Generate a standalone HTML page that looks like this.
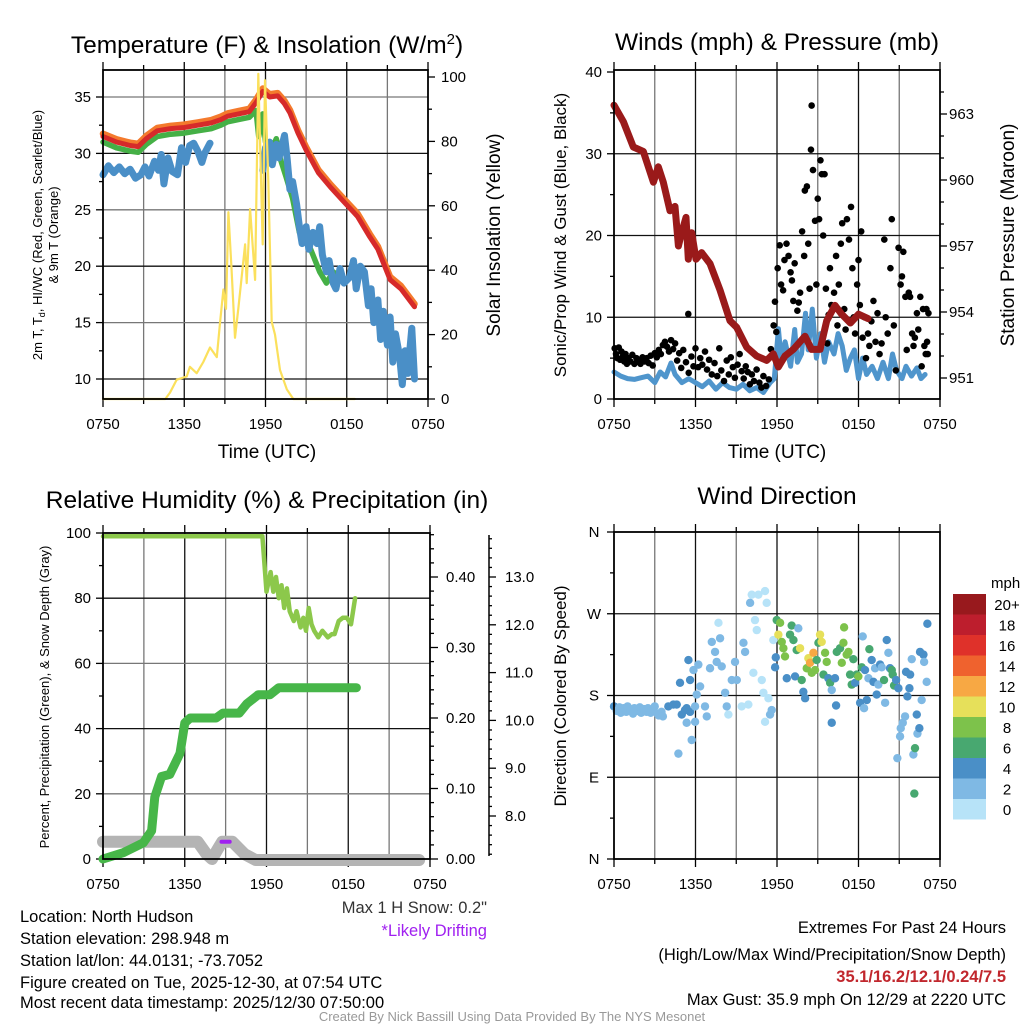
<!DOCTYPE html>
<html><head><meta charset="utf-8"><style>
html,body{margin:0;padding:0;background:#fff;}
svg{display:block;font-family:"Liberation Sans Narrow","Liberation Sans",sans-serif;}
</style></head><body>
<svg id="c" width="1024" height="1024" viewBox="0 0 1024 1024" xmlns="http://www.w3.org/2000/svg">
<rect width="1024" height="1024" fill="#fff"/>
<g font-size="24.5" text-anchor="middle" fill="#000">
<text x="267" y="53">Temperature (F) &amp; Insolation (W/m<tspan dy="-9" font-size="15">2</tspan><tspan dy="9">)</tspan></text>
<text x="777" y="50">Winds (mph) &amp; Pressure (mb)</text>
<text x="267" y="508">Relative Humidity (%) &amp; Precipitation (in)</text>
<text x="777" y="504">Wind Direction</text>
</g>
<g font-size="19" text-anchor="middle">
<text x="267" y="458">Time (UTC)</text>
<text x="777" y="458">Time (UTC)</text>
<text transform="translate(500,235) rotate(-90)">Solar Insolation (Yellow)</text>
<text transform="translate(1014,235) rotate(-90)">Station Pressure (Maroon)</text>
</g>
<g font-size="17" text-anchor="middle">
<text transform="translate(566,235) rotate(-90)">Sonic/Prop Wind &amp; Gust (Blue, Black)</text>
<text transform="translate(566,696) rotate(-90)">Direction (Colored By Speed)</text>
</g>
<g font-size="13" text-anchor="middle">
<text transform="translate(42,235) rotate(-90)">2m T, T<tspan font-size="9" dy="3">d</tspan><tspan dy="-3">, HI/WC (Red, Green, Scarlet/Blue)</tspan></text>
<text transform="translate(58,235) rotate(-90)">&amp; 9m T (Orange)</text>
<text transform="translate(49,697) rotate(-90)">Percent, Precipitation (Green), &amp; Snow Depth (Gray)</text>
</g>
<g font-size="16.5" fill="#000">
<text x="20" y="922">Location: North Hudson</text>
<text x="20" y="944">Station elevation: 298.948 m</text>
<text x="20" y="966">Station lat/lon: 44.0131; -73.7052</text>
<text x="20" y="988">Figure created on Tue, 2025-12-30, at 07:54 UTC</text>
<text x="20" y="1008">Most recent data timestamp: 2025/12/30 07:50:00</text>
<text x="487" y="913" text-anchor="end" fill="#333">Max 1 H Snow: 0.2"</text>
<text x="487" y="936" text-anchor="end" fill="#a020f0">*Likely Drifting</text>
<text x="1006" y="933" text-anchor="end">Extremes For Past 24 Hours</text>
<text x="1006" y="960" text-anchor="end">(High/Low/Max Wind/Precipitation/Snow Depth)</text>
<text x="1006" y="982" text-anchor="end" fill="#c1272d" font-weight="bold">35.1/16.2/12.1/0.24/7.5</text>
<text x="1006" y="1005" text-anchor="end">Max Gust: 35.9 mph On 12/29 at 2220 UTC</text>
</g>
<text x="512" y="1021" font-size="13" fill="#999" text-anchor="middle">Created By Nick Bassill Using Data Provided By The NYS Mesonet</text>
</svg>
<script>
// ---- Panel 1 data (hours since 0750 UTC) ----
const redH=[0,1,2,2.6,3.2,4,5,6,7,8,8.7,9.2,10,10.8,11.3,11.8,12.3,12.9,13.4,13.8,14.4,15.0,15.9,16.8,17.8,18.5,18.8,19.7,20.3,21.2,22.0,23.0];
const redT=[31.5,31.0,30.7,30.6,31.3,32.0,32.2,32.3,32.5,32.7,33.0,33.3,33.5,33.7,34.5,35.5,35.0,35.1,34.4,33.6,31.8,30.3,28.3,27.0,25.7,24.8,24.4,22.6,21.5,18.8,18.0,16.4];
const greenH=[0,1,2,2.6,3.2,4,5,6,7,8,8.7,9.2,10,10.8,11.3,11.5,11.8,12.0,12.5,12.8,13.1,13.5,14,14.5,15,15.5,16,16.5,17,17.5,18,18.5];
const greenT=[31.0,30.5,30.2,30.1,30.8,31.5,31.7,31.8,32.0,32.2,32.5,32.8,33.0,33.2,33.8,31.5,33.5,31.0,30.5,31.3,29.5,28.0,26.0,23.0,22.5,21.0,19.5,18.5,19.5,19.0,18.8,19.5];
const blueH1=[0,0.4,0.8,1.2,1.6,2.0,2.4,2.8,3.1,3.4,3.8,4.1,4.3,4.5,4.8,5.1,5.5,5.8,6.1,6.4,6.7,7.0,7.3,7.5,7.9];
const blueT1=[28.1,28.9,28.3,28.8,28.2,28.6,27.8,28.1,28.8,28.0,29.3,28.5,29.9,27.3,29.6,28.4,28.1,30.5,29.2,30.7,30.9,30.2,29.2,30.0,30.9];
const blueH2=[11.8,12.0,12.3,12.5,12.8,13.0,13.4,13.6,13.8,14.0,14.3,14.5,14.7,15.0,15.2,15.5,15.8,16.0,16.2,16.5,16.7,17.0,17.2,17.5,17.8,18.2,18.5,18.7,19.0,19.3,19.6,19.8,20.0,20.3,20.5,20.7,21.0,21.2,21.4,21.6,21.9,22.1,22.3,22.5,22.8,23.0];
const blueT2=[28.5,30.5,31.0,29.0,30.8,29.6,31.6,29.5,26.8,27.5,25.5,23.5,22.0,23.5,21.5,23.0,22.0,23.5,21.0,19.5,20.5,18.5,18.0,19.8,18.5,19.0,20.5,18.0,20.0,19.5,16.5,18.0,15.0,17.0,13.5,16.0,13.0,15.5,11.5,14.0,12.0,9.5,12.5,10.5,14.5,10.0];
const solH=[0,4.6,4.95,5.44,6.18,6.42,6.92,7.41,7.9,8.4,8.64,8.89,9.08,9.26,9.5,9.75,9.99,10.24,10.49,10.61,10.86,11.23,11.47,11.79,11.96,12.21,12.46,12.7,13.07,13.57,14.05,18.6];
const solW=[0,0,2,6,7,10,8,11.5,16,13,23.6,34,28,58,40,19,28,38,48,36,59,37,101,48,99,68,24,20,9,3,0,0];
const tempTicks=[10,15,20,25,30,35];
const solTicks=[0,20,40,60,80,100];
const timeLabels=["0750","1350","1950","0150","0750"];
// ---- Panel 2 data ----
const presH=[0,0.69,1.42,2.16,2.9,3.26,3.63,4.12,4.49,4.74,4.98,5.3,5.47,5.72,6.04,6.45,7.07,7.8,8.54,9.03,9.77,10.5,11.24,11.73,12.1,12.59,13.2,14.06,14.55,15.17,15.66,16.27,16.76,17.4,18.0,18.7];
const presMb=[963.4,962.65,961.5,961.3,959.9,960.6,959.9,958.6,958.8,957.0,957.6,958.3,956.4,957.6,956.4,956.7,956.2,955.0,953.6,953.3,952.4,952.0,951.8,952.1,951.5,952.0,952.3,952.9,952.3,952.3,953.6,954.3,953.9,953.5,953.9,953.7];
const windH=[0,0.5,1,1.5,2,2.5,3,3.4,3.8,4.2,4.5,5,5.5,6,6.5,7,7.5,8,8.5,9,9.5,10,10.5,11,11.5,11.8,12.1,12.3,12.6,13,13.3,13.5,13.8,14.1,14.3,14.6,14.9,15.2,15.5,15.8,16.2,16.5,16.8,17.1,17.4,17.7,18,18.3,18.6,19,19.4,19.8,20.2,20.5,20.8,21.2,21.5,21.9,22.3,22.6,22.9];
const windV=[3.3,2.8,2.5,2.4,2.6,2.8,2.0,3.3,2.7,4.4,3.0,2.0,2.5,2.0,1.5,2.2,1.2,2.0,1.4,1.2,1.8,1.0,1.4,0.8,2.0,2.5,8.6,5,7,4,8.5,4.5,5.5,10.5,6,11,5,8,4.5,7,5.5,8,6.5,3.5,5,6,2.5,5,3,4,2.5,4.5,2.5,5.5,3.5,2.5,4,2.8,3.8,2.5,3];
const gustH=[0.05,0.15,0.25,0.35,0.45,0.55,0.65,0.75,0.85,0.95,1.05,1.2,1.35,1.5,1.65,1.8,1.95,2.1,2.25,2.4,2.55,2.7,2.85,3.0,3.15,3.3,3.45,3.6,3.75,3.9,4.05,4.2,4.35,4.5,4.65,5.47,4.8,4.95,5.1,5.3,5.5,5.7,5.85,6.0,6.2,6.35,6.5,6.7,6.85,7.0,7.2,7.4,7.6,7.75,7.9,8.1,8.3,8.45,8.6,8.75,8.9,9.1,9.25,9.4,9.55,9.7,9.85,10.0,10.15,10.3,10.5,10.7,10.85,11.0,11.2,11.4,11.55,11.75,11.85,11.95,12.05,12.2,12.3,12.45,12.55,12.7,12.85,13.0,13.1,13.2,13.3,13.5,13.6,13.7,13.85,14.0,14.05,14.2,14.3,14.4,14.5,14.55,14.65,14.8,14.9,15.0,15.1,15.2,15.3,15.4,15.5,15.6,15.7,15.8,15.9,16.0,16.2,16.35,16.45,16.55,16.7,16.8,16.95,17.05,17.15,17.3,17.45,17.55,17.65,17.75,17.9,18.0,18.1,18.2,18.3,18.45,18.55,18.7,18.8,18.95,19.1,19.25,19.4,19.55,19.7,19.9,20.0,20.15,20.35,20.45,20.6,20.75,20.95,21.1,21.2,21.3,21.45,21.55,21.7,21.8,21.95,22.05,22.15,22.3,22.4,22.55,22.65,22.75,22.85,22.95,23.0,23.05,23.1,23.15];
const gustV=[6.2,5.5,5.0,6.3,4.8,5.8,5.2,4.6,5.5,4.3,5.0,4.6,5.4,4.3,5.0,4.6,4.3,5.1,4.6,5.0,4.4,5.3,4.1,5.6,5.1,6.0,5.5,6.6,7.0,6.4,5.8,7.2,6.1,6.8,4.7,10.4,5.6,3.8,6.0,4.5,3.2,5.2,4.0,6.2,3.9,5.0,4.2,5.8,3.6,4.8,3.0,4.4,2.8,6.2,3.5,2.2,4.7,3.0,5.1,3.9,2.6,4.2,5.5,3.4,2.5,4.0,3.3,1.8,3.0,2.2,3.6,2.0,1.4,2.8,1.6,2.4,6.1,9.0,11.9,8.2,16.0,18.8,14.0,13.3,17.0,19.0,17.5,15.5,14.5,12.0,16.6,10.8,11.8,13.0,20.5,17.5,25.5,26.0,19.0,13.5,30.5,35.9,28.0,21.8,14.0,24.5,22.0,29.2,27.5,20.0,27.5,13.5,6.8,10.3,16.0,11.5,13.0,17.5,9.0,14.0,19.0,21.5,11.0,8.5,22.0,19.5,23.5,16.0,10.0,8.0,14.0,17.0,11.5,20.5,7.5,10.0,5.0,8.0,6.5,9.5,12.0,7.0,10.5,5.5,6.8,19.5,10.0,8.0,16.0,22.0,9.0,3.5,18.5,14.0,15.0,18.0,12.5,6.0,13.0,12.5,8.0,6.5,7.5,10.5,8.5,12.5,4.0,11.0,6.5,5.5,11.0,7.0,5.5,10.5];
const windTicks=[0,10,20,30,40];
const presTicks=[951,954,957,960,963];
// ---- Panel 3 data ----
const rhH=[0,11.7,12.0,12.3,12.5,12.7,12.9,13.1,13.3,13.5,13.7,14.0,14.2,14.5,14.7,14.9,15.1,15.3,15.5,15.8,16.1,16.5,16.8,17.0,17.3,17.6,17.9,18.2,18.5];
const rhPct=[99,99,82,88,82,86.5,80,84,77,83,76,73,76,71,74,70,77,72,70,68,70,68,69,69,73,74,74,72,80];
const pcpH=[0,1.49,2.96,3.57,3.8,4.3,4.9,5.65,6.0,6.4,8.3,8.8,10.0,10.55,11.4,12.26,12.9,18.6];
const pcpIn=[0,0.009,0.023,0.04,0.088,0.117,0.12,0.15,0.193,0.2,0.2,0.207,0.207,0.22,0.233,0.233,0.243,0.243];
const snowH=[0,6.95,7.6,8.0,8.4,8.75,9.5,10.4,11.2,23.2];
const snowIn=[7.46,7.46,7.2,7.1,7.3,7.46,7.46,7.2,7.08,7.08];
const driftH=[8.7,9.3];
const rhTicks=[0,20,40,60,80,100];
const pcpTicks=[0.00,0.10,0.20,0.30,0.40];
const snowTicks=[8.0,9.0,10.0,11.0,12.0,13.0];
// ---- Panel 4 data ----
const dirH=[0,0.2,0.4,0.5,0.7,0.9,1.0,1.2,1.4,1.5,1.7,1.9,2.0,2.2,2.4,2.5,2.7,2.9,3.0,3.2,3.3,3.5,3.6,4.0,4.37,4.62,4.99,5.23,5.35,5.6,4.74,5.35,5.72,5.97,6.7,6.83,5.48,4.86,5.6,5.85,6.21,6.34,6.09,5.97,7.07,7.2,7.44,7.69,7.81,7.56,7.93,8.18,8.3,8.42,8.67,8.91,9.04,9.4,9.53,9.65,9.89,10.02,10.14,10.26,10.38,10.51,10.63,10.88,11.0,11.12,11.24,11.37,11.49,11.12,11.73,11.61,11.86,11.91,11.98,12.1,12.23,12.35,12.47,12.59,12.72,12.96,13.08,13.21,13.33,13.45,13.57,13.7,13.82,13.94,14.07,14.19,14.31,14.43,14.56,14.68,14.8,14.92,15.05,15.17,15.29,15.42,15.54,15.66,15.78,15.91,16.03,16.03,16.27,16.35,16.4,16.64,16.77,16.89,16.94,17.13,17.26,17.38,17.5,17.62,17.75,17.87,17.99,18.12,18.24,18.31,18.41,18.48,18.61,18.73,18.8,18.97,19.1,19.22,19.34,19.46,19.59,19.71,19.88,19.96,20.08,20.2,20.32,20.45,20.52,20.62,20.77,20.86,20.94,21.06,21.11,21.26,21.43,21.5,21.6,21.75,21.8,21.92,22.04,22.11,22.16,22.29,22.34,22.48,22.53,22.65,22.78,22.83,23.02,23.07];
const dirDeg=[168,163,167,161,166,162,168,164,160,166,163,167,161,165,162,166,161,164,168,160,158,162,157,168,170,170,159,164,166,162,116,150,131,151,168,157,219,194,197,208,214,190,181,168,210,239,228,260,243,217,212,183,168,159,197,217,197,168,238,228,170,282,291,205,263,252,291,197,183,295,282,177,159,151,241,164,211,222,263,247,260,239,232,223,199,247,257,241,201,230,254,232,197,184,177,210,221,216,205,227,208,219,238,247,239,203,227,217,199,194,186,150,199,169,228,232,216,238,255,225,228,203,192,220,194,203,201,172,211,245,166,208,175,199,231,219,195,210,181,192,214,211,197,172,241,227,210,208,203,191,197,111,188,135,144,150,157,206,179,188,203,220,115,72,122,159,138,144,228,175,225,217,195,259];
const dirSpd=[4,2,2,2,2,2,2,2,2,2,2,2,2,2,2,2,2,2,2,2,2,2,3,4,4,4,4,4,4,4,2,2,2,2,2,2,4,4,4,2,2,2,2,2,2,2,2,0,2,2,2,2,2,0,2,2,2,0,2,2,0,2,0,0,0,0,0,0,0,0,0,0,2,0,0,2,4,4,6,10,8,8,8,8,4,6,6,6,4,6,2,10,6,4,4,8,10,12,8,12,8,6,6,10,10,6,8,8,4,6,2,4,4,4,6,6,8,8,8,8,8,6,6,6,4,6,8,4,6,2,2,4,4,2,6,4,4,2,4,2,4,2,6,2,4,2,4,6,6,6,4,2,4,2,2,2,2,4,4,4,4,2,2,6,6,4,2,4,4,2,4,2,2,4];
const dirLabels=["N","E","S","W","N"];
const spdLabels=["0","2","4","6","8","10","12","14","16","18","20+"];
const spdColors=["#b7e3f8","#7fb9e4","#4a8fc7","#48a870","#7dc24b","#e6e05a","#f7a844","#ef622e","#df312a","#bd1e2d","#98191d"];

const svg=document.getElementById('c');
const NS="http://www.w3.org/2000/svg";
function mk(tag,parent){const e=document.createElementNS(NS,tag);parent.appendChild(e);return e;}
function sa(e,o){for(const k in o)e.setAttribute(k,o[k]);return e;}
function pts(xs,ys,fx,fy){return xs.map((x,i)=>fx(x).toFixed(1)+","+fy(ys[i]).toFixed(1)).join(" ");}

function frame(g,x0,x1,y0,y1,name){
  for(let k=1;k<8;k++){const x=x0+(x1-x0)*k/8;const l=mk('line',g);
    
    
    sa(l,{x1:x,x2:x,y1:y0,y2:y1,stroke:k%2?"#777":"#111","stroke-width":1.3});}
  for(let k=0;k<=8;k++){const x=x0+(x1-x0)*k/8;const l=mk('line',g);
    
    
    sa(l,{x1:x,x2:x,y1:y1,y2:y1+(k%2?5:8),stroke:"#000","stroke-width":1.3});
    const t2=mk('line',g);sa(t2,{x1:x,x2:x,y1:y0,y2:y0-(k%2?5:8),stroke:"#000","stroke-width":1.3});
    
    }
  timeLabels.forEach((s,i)=>{const t=mk('text',g);
    
    
    sa(t,{x:x0+(x1-x0)*i/4,y:y1+30,"font-size":15,"text-anchor":"middle"});t.textContent=s;});
}
function hgrid(g,x0,x1,y,name,dark){const l=mk('line',g);
  
  
  sa(l,{x1:x0,x2:x1,y1:y,y2:y,stroke:dark?"#111":"#777","stroke-width":1.3});}
function border(g,x0,x1,y0,y1,name){const r=mk('rect',g);
  
  
  sa(r,{x:x0,y:y0,width:x1-x0,height:y1-y0,fill:"none",stroke:"#000","stroke-width":1.8});}
function ytick(g,x,y,len,label,lx,anchor,name){const l=mk('line',g);
  
  
  sa(l,{x1:x,x2:x+len,y1:y,y2:y,stroke:"#000","stroke-width":1.3});
  if(label!==null){const t=mk('text',g);
    
    
    sa(t,{x:lx,y:y+5,"font-size":15,"text-anchor":anchor});t.textContent=label;}}
function line(g,xs,ys,fx,fy,color,w,name){const p=mk('polyline',g);
  
  
  sa(p,{points:pts(xs,ys,fx,fy),fill:"none",stroke:color,"stroke-width":w,"stroke-linejoin":"round","stroke-linecap":"round"});return p;}

// ===== Panel 1 =====
(function(){
  const g=mk('g',svg);
  
  
  const x0=103,x1=428,y0=70,y1=399;
  const fx=h=>x0+h/24*(x1-x0);
  const fy=T=>379-(T-10)*11.28;
  const fs=w=>399-w*3.22;
  frame(g,x0,x1,y0,y1,'temp');
  tempTicks.forEach((v,i)=>{hgrid(g,x0,x1,fy(v),'temp',i%2==0);ytick(g,x0,fy(v),-7,String(v),x0-12,"end",'temp');});
  for(let v=7.5;v<=37.5;v+=5){if(fy(v)>y0&&fy(v)<y1)ytick(g,x0,fy(v),-4,null,0,"end",'temp-minor');}
  for(let v=0;v<=100;v+=10){ytick(g,x1,fs(v),v%20?4:7,v%20?null:String(v),x1+13,"start",'insolation');}
  line(g,redH,redT.map(v=>v+0.25),fx,fy,"#f47a2d",6.5,'orange-9m-temp-line');
  line(g,greenH,greenT,fx,fy,"#45b046",5.5,'green-windchill-line');
  line(g,blueH1,blueT1,fx,fy,"#4a8fc7",7,'blue-dewpoint-line-1');
  line(g,blueH2,blueT2,fx,fy,"#4a8fc7",7,'blue-dewpoint-line-2');
  line(g,redH,redT,fx,fy,"#d62a2a",5,'red-temperature-line');
  line(g,solH,solW,fx,fs,"#fbe05c",2.2,'yellow-insolation-line');
  border(g,x0,x1,y0,y1,'temp');
})();

// ===== Panel 2 =====
(function(){
  const g=mk('g',svg);
  
  
  const x0=614,x1=940,y0=70,y1=399;
  const fx=h=>x0+h/24*(x1-x0);
  const fv=v=>399-v*8.175;
  const fp=p=>378-(p-951)*22;
  frame(g,x0,x1,y0,y1,'winds');
  windTicks.forEach((v,i)=>{if(v>0&&v<40)hgrid(g,x0,x1,fv(v),'winds',true);ytick(g,x0,fv(v),-7,String(v),x0-12,"end",'wind');});
  for(let v=5;v<40;v+=10)ytick(g,x0,fv(v),-4,null,0,"end",'wind-minor');
  for(let p=951;p<=964;p++){ytick(g,x1,fp(p),presTicks.includes(p)?7:4,presTicks.includes(p)?String(p):null,x1+9,"start",'pressure');}
  line(g,windH,windV,fx,fv,"#4f95cc",5,'sonic-wind-line');
  gustH.forEach((h,i)=>{const c=mk('circle',g);
    
    
    sa(c,{cx:fx(h),cy:fv(gustV[i]),r:3.3,fill:"#000"});});
  line(g,presH,presMb,fx,fp,"#9a1a1a",7,'pressure-line');
  border(g,x0,x1,y0,y1,'winds');
})();

// ===== Panel 3 =====
(function(){
  const g=mk('g',svg);
  
  
  const x0=103,x1=430,y0=533,y1=859;
  const fx=h=>x0+h/24*(x1-x0);
  const fr=p=>859-p*3.26;
  const fi=v=>859-v*705;
  const fsn=s=>816-(s-8)*47.8;
  frame(g,x0,x1,y0,y1,'rh');
  rhTicks.forEach((v,i)=>{if(v>0&&v<100)hgrid(g,x0,x1,fr(v),'rh',i%2==0);ytick(g,x0,fr(v),-7,String(v),x0-12,"end",'rh');});
  for(let v=10;v<100;v+=20)ytick(g,x0,fr(v),-4,null,0,"end",'rh-minor');
  for(let k=0;k<=23;k++){const v=k*0.02;const maj=k%5==0;
    ytick(g,x1,fi(v),maj?8:4,maj?pcpTicks[k/5].toFixed(2):null,x1+16,"start",'precip');}
  const ax=mk('line',g);
  
  
  sa(ax,{x1:489,x2:489,y1:535,y2:856,stroke:"#000","stroke-width":1.5});
  for(let s=7.2;s<=13.8;s+=0.2){const r=Math.round(s*10)/10;const maj=Math.abs(r-Math.round(r))<0.01&&r>=8;
    ytick(g,489,fsn(r),maj?7:3,maj?r.toFixed(1):null,505,"start",'snow');}
  line(g,snowH,snowIn,fx,fsn,"#b4b4b4",12,'snow-depth-line');
  line(g,driftH,[7.46,7.46],fx,fsn,"#a020f0",4,'drifting-marker');
  line(g,pcpH,pcpIn,fx,fi,"#47b649",9,'precipitation-line');
  line(g,rhH,rhPct,fx,fr,"#8cc84b",4.5,'relative-humidity-line');
  border(g,x0,x1,y0,y1,'rh');
})();

// ===== Panel 4 =====
(function(){
  const g=mk('g',svg);
  
  
  const x0=614,x1=940,y0=532,y1=859;
  const fx=h=>x0+h/24*(x1-x0);
  const fd=d=>859-d*(327/360);
  frame(g,x0,x1,y0,y1,'dir');
  dirLabels.forEach((s,i)=>{const y=fd(i*90);if(i>0&&i<4)hgrid(g,x0,x1,y,'dir',true);ytick(g,x0,y,-7,s,x0-20,"middle",'dir');});
  for(let d=45;d<360;d+=90)ytick(g,x0,fd(d),-4,null,0,"end",'dir-minor');
  dirH.forEach((h,i)=>{const c=mk('circle',g);
    
    
    const idx=Math.min(10,Math.floor(dirSpd[i]/2));
    sa(c,{cx:fx(h),cy:fd(dirDeg[i]),r:4.2,fill:spdColors[idx]});});
  border(g,x0,x1,y0,y1,'dir');
  const cb=mk('g',svg);
  
  
  const t=mk('text',cb);
  
  
  sa(t,{x:991,y:588,"font-size":15});t.textContent="mph";
  spdColors.forEach((col,i)=>{const y=799-i*20.5;const r=mk('rect',cb);
    
    
    sa(r,{x:953,y:y,width:33,height:20.5,fill:col});
    const l=mk('text',cb);
    
    
    sa(l,{x:1007,y:y+16,"font-size":15,"text-anchor":"middle"});l.textContent=spdLabels[i];});
})();
</script>
</body></html>
